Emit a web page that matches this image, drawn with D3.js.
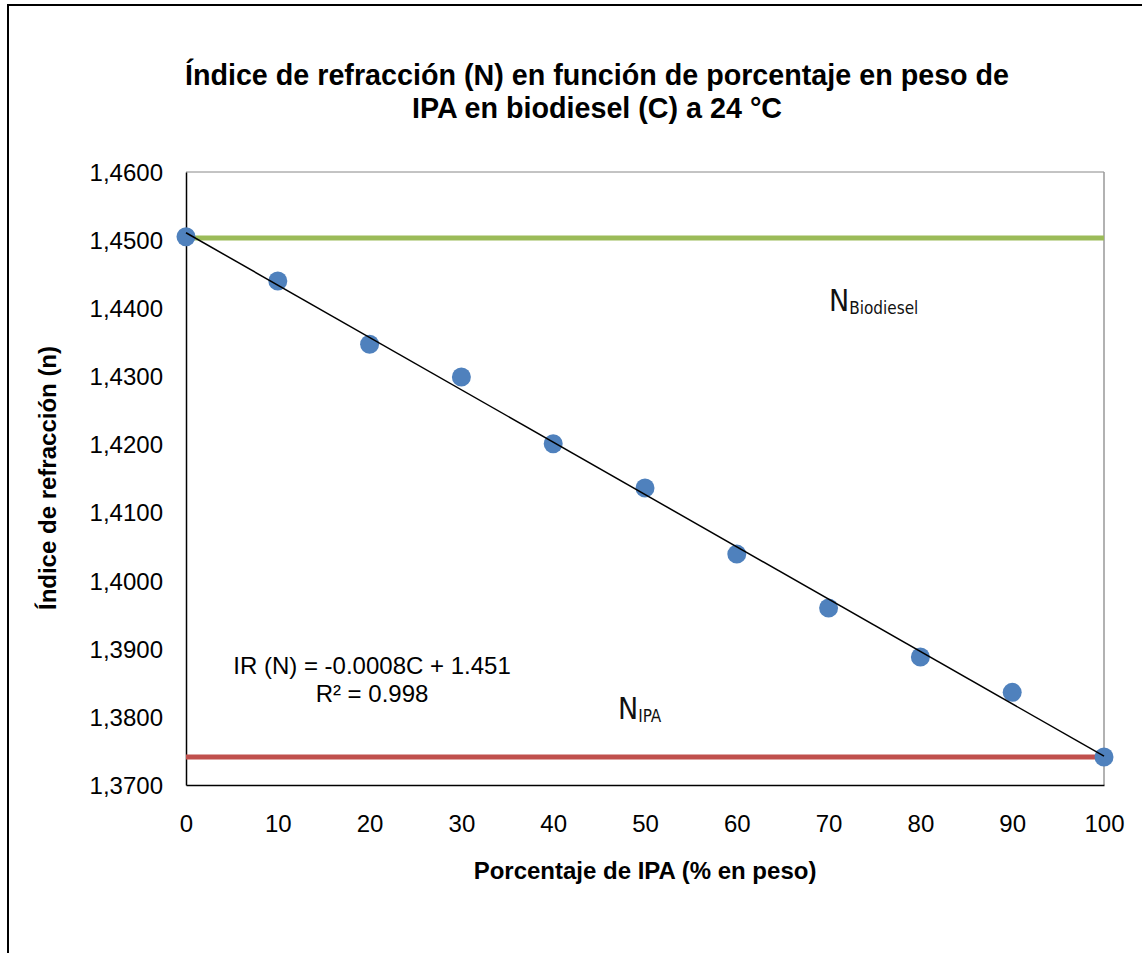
<!DOCTYPE html>
<html>
<head>
<meta charset="utf-8">
<script src="https://cdn.jsdelivr.net/npm/d3@7/dist/d3.min.js"></script>
<style>
  html, body { margin: 0; padding: 0; background: #fff; }
  svg { display: block; font-family: "Liberation Sans", Arial, sans-serif; }
</style>
</head>
<body>
<svg id="chart" width="1142" height="953"></svg>
<script>
// Porcentaje en peso de IPA en la mezcla con biodiesel
const concentrations = [0, 10, 20, 30, 40, 50, 60, 70, 80, 90, 100];
// Índice de refracción medido a 24 °C
const refractiveIndex = [1.4505, 1.4440, 1.4347, 1.4299, 1.4201, 1.4136, 1.4039, 1.3960, 1.3888, 1.3836, 1.3741];
// Índices de referencia de los componentes puros
const nBiodiesel = 1.4503;
const nIPA = 1.3741;
const xTicks = [0, 10, 20, 30, 40, 50, 60, 70, 80, 90, 100];
const yTicks = [1.37, 1.38, 1.39, 1.40, 1.41, 1.42, 1.43, 1.44, 1.45, 1.46];

const svg = d3.select("#chart");
const W = 1142, H = 953;

// Marco exterior del gráfico
svg.append("rect")
  .attr("x", 8).attr("y", 5).attr("width", W + 20).attr("height", H + 20)
  .attr("fill", "#fff").attr("stroke", "#000").attr("stroke-width", 2);

const plot = { left: 186, top: 172, right: 1104, bottom: 785 };

const x = d3.scaleLinear().domain([0, 100]).range([plot.left, plot.right]);
const y = d3.scaleLinear().domain([1.37, 1.46]).range([plot.bottom, plot.top]);

// Borde del área de trazado
svg.append("line").attr("x1", plot.left).attr("x2", plot.right)
  .attr("y1", plot.top).attr("y2", plot.top).attr("stroke", "#888").attr("stroke-width", 1);
svg.append("line").attr("x1", plot.right).attr("x2", plot.right)
  .attr("y1", plot.top).attr("y2", plot.bottom).attr("stroke", "#999").attr("stroke-width", 1.5);

// Ejes
const fmtComma = d => d3.format(".4f")(d).replace(".", ",");
const yAxis = svg.append("g")
  .attr("transform", `translate(${plot.left},0)`)
  .call(d3.axisLeft(y).tickValues(yTicks).tickFormat(fmtComma).tickSize(0).tickPadding(23));
const xAxis = svg.append("g")
  .attr("transform", `translate(0,${plot.bottom})`)
  .call(d3.axisBottom(x).tickValues(xTicks).tickFormat(d3.format("d")).tickSize(0).tickPadding(30));

[yAxis, xAxis].forEach(g => {
  g.select(".domain").attr("stroke", "#000").attr("stroke-width", 1.5);
  g.selectAll("text").attr("font-size", 24).attr("fill", "#000")
    .attr("font-family", "'Liberation Sans', Arial, sans-serif");
});
yAxis.selectAll("text").attr("dy", "0.35em");

// Líneas de referencia de los componentes puros
svg.append("line")
  .attr("x1", x(0)).attr("x2", x(100))
  .attr("y1", y(nBiodiesel)).attr("y2", y(nBiodiesel))
  .attr("stroke", "#9BBB59").attr("stroke-width", 5);
svg.append("line")
  .attr("x1", x(0)).attr("x2", x(100))
  .attr("y1", y(nIPA)).attr("y2", y(nIPA))
  .attr("stroke", "#C0504D").attr("stroke-width", 5);

// Puntos medidos
svg.append("g").selectAll("circle")
  .data(concentrations.map((c, i) => [c, refractiveIndex[i]]))
  .join("circle")
  .attr("cx", d => x(d[0])).attr("cy", d => y(d[1]))
  .attr("r", 9.5).attr("fill", "#4F81BD");

// Recta de regresión por mínimos cuadrados
const mx = d3.mean(concentrations), my = d3.mean(refractiveIndex);
let sxy = 0, sxx = 0;
concentrations.forEach((c, i) => { sxy += (c - mx) * (refractiveIndex[i] - my); sxx += (c - mx) ** 2; });
const slope = sxy / sxx, intercept = my - slope * mx;
svg.append("line")
  .attr("x1", x(0)).attr("y1", y(intercept))
  .attr("x2", x(100)).attr("y2", y(intercept + slope * 100))
  .attr("stroke", "#000").attr("stroke-width", 1.5);

// Ecuación de la recta
const eq = svg.append("text").attr("text-anchor", "middle").attr("font-size", 24).attr("fill", "#000");
eq.append("tspan").attr("x", 372).attr("y", 674).text("IR (N) = -0.0008C + 1.451");
eq.append("tspan").attr("x", 372).attr("y", 702).text("R² = 0.998");

// Etiquetas de los componentes puros
const narrow = "'Liberation Sans Narrow', 'DejaVu Sans Condensed', sans-serif";
const lb = svg.append("text").attr("x", 829).attr("y", 311).attr("font-family", narrow)
  .attr("fill", "#111").attr("font-weight", 300);
lb.append("tspan").attr("font-size", 30).text("N");
lb.append("tspan").attr("font-size", 17).attr("dy", 3).text("Biodiesel");

const li = svg.append("text").attr("x", 618).attr("y", 719).attr("font-family", narrow)
  .attr("fill", "#111").attr("font-weight", 300);
li.append("tspan").attr("font-size", 30).text("N");
li.append("tspan").attr("font-size", 17).attr("dy", 3).text("IPA");

// Títulos
const title = svg.append("text").attr("text-anchor", "middle")
  .attr("font-size", 28.7).attr("font-weight", "bold").attr("fill", "#000");
title.append("tspan").attr("x", 597).attr("y", 85)
  .text("Índice de refracción (N) en función de porcentaje en peso de");
title.append("tspan").attr("x", 597).attr("y", 118)
  .text("IPA en biodiesel (C) a 24 °C");

svg.append("text").attr("x", 645).attr("y", 879).attr("text-anchor", "middle")
  .attr("font-size", 24).attr("font-weight", "bold").attr("fill", "#000")
  .text("Porcentaje de IPA (% en peso)");

svg.append("text")
  .attr("transform", "translate(56,478) rotate(-90)")
  .attr("text-anchor", "middle")
  .attr("font-size", 24).attr("font-weight", "bold").attr("fill", "#000")
  .text("Índice de refracción (n)");
</script>
</body>
</html>
